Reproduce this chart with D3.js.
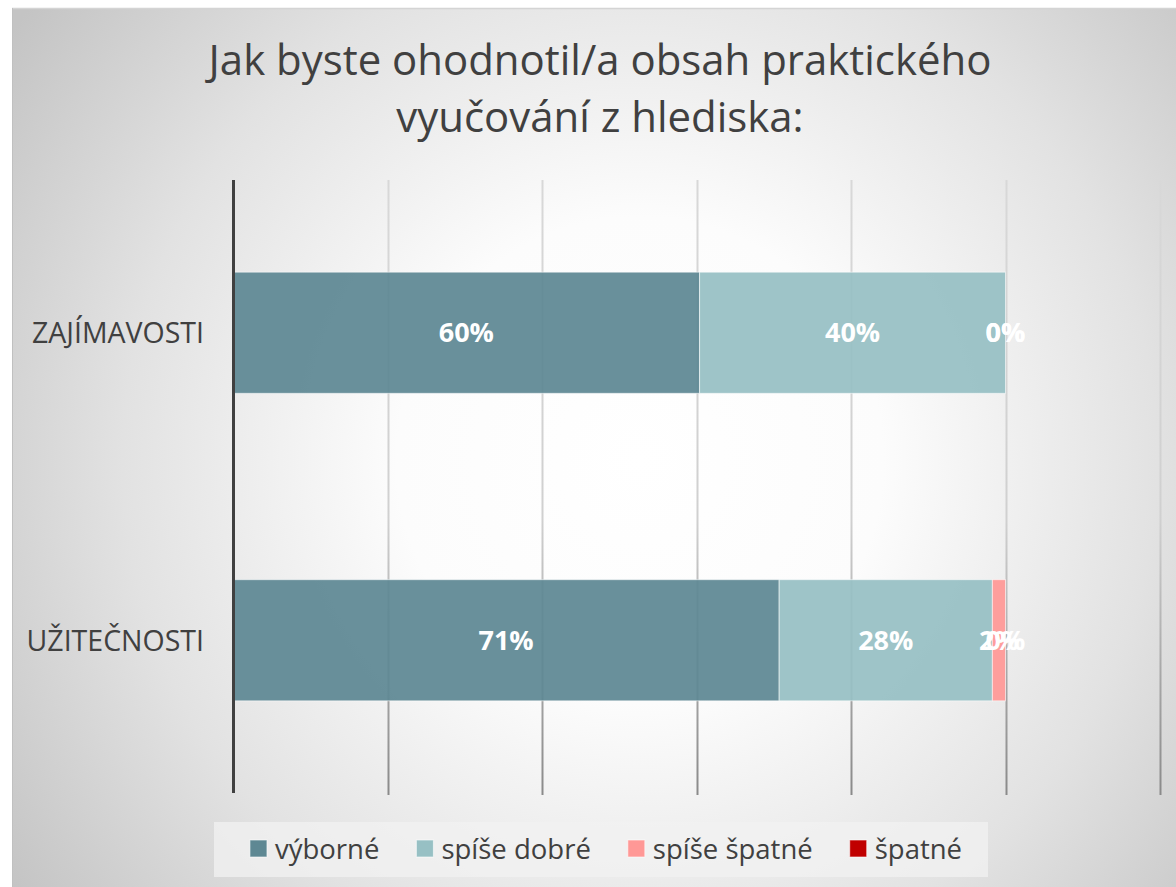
<!DOCTYPE html>
<html>
<head>
<meta charset="utf-8">
<script src="https://cdn.jsdelivr.net/npm/d3@7"></script>
<style>
  html, body { margin: 0; padding: 0; background: #ffffff; }
  svg { display: block; }
  text { font-family: "Open Sans", "Noto Sans", sans-serif; }
</style>
</head>
<body>
<svg id="chart" width="1176" height="887"></svg>
<script>
// ---- data ----
const titleLines = ["Jak byste ohodnotil/a obsah praktického", "vyučování z hlediska:"];
const categories = ["ZAJÍMAVOSTI", "UŽITEČNOSTI"];
const seriesNames = ["výborné", "spíše dobré", "spíše špatné", "špatné"];
const vyborne = [0.604, 0.707];
const spiseDobre = [0.396, 0.276];
const spiseSpatne = [0.0, 0.017];
const spatne = [0.0, 0.0];
const seriesColors = ["#5e8893", "#97c0c4", "#ff9896", "#c00000"];
const xTicks = [0, 0.2, 0.4, 0.6, 0.8, 1.0, 1.2];

const seriesValues = [vyborne, spiseDobre, spiseSpatne, spatne];

const svg = d3.select("#chart");
const defs = svg.append("defs");

// background gradient
const rg = defs.append("radialGradient").attr("id", "bg")
  .attr("gradientUnits", "userSpaceOnUse")
  .attr("cx", 640).attr("cy", 460).attr("r", 760);
[[0, "#ffffff"], [0.32, "#fcfcfc"], [0.68, "#e2e2e2"], [1, "#c4c4c4"]]
  .forEach(([o, c]) => rg.append("stop").attr("offset", o).attr("stop-color", c));

const gg = defs.append("linearGradient").attr("id", "grid")
  .attr("gradientUnits", "userSpaceOnUse")
  .attr("x1", 0).attr("y1", 180).attr("x2", 0).attr("y2", 795);
[[0, "#d8d8d8"], [0.55, "#d0d0d0"], [0.8, "#a8a8a8"], [1, "#8a8a8a"]]
  .forEach(([o, c]) => gg.append("stop").attr("offset", o).attr("stop-color", c));

svg.append("rect").attr("x", 12).attr("y", 8).attr("width", 1176).attr("height", 900)
  .attr("fill", "url(#bg)");
svg.append("line").attr("x1", 12).attr("x2", 1176).attr("y1", 8.5).attr("y2", 8.5)
  .attr("stroke", "#d4d4d4").attr("stroke-width", 1.5);
svg.append("line").attr("x1", 12.5).attr("x2", 12.5).attr("y1", 8).attr("y2", 887)
  .attr("stroke", "#c0c0c0").attr("stroke-width", 1);

// title
const title = svg.append("text").attr("text-anchor", "middle")
  .attr("fill", "#404040").attr("font-size", 40);
titleLines.forEach((t, i) => {
  title.append("tspan").attr("x", 600).attr("y", 75 + i * 57).text(t);
});
const tl = title.select("tspan").node().getComputedTextLength();
title.attr("font-size", 40 * 783 / tl);

// scales
const x = d3.scaleLinear().domain([0, 1.2]).range([233, 1160]);
const y = d3.scaleBand().domain(categories).range([180, 795])
  .paddingInner(0.606).paddingOuter(0.303);

// gridlines
svg.append("g").selectAll("line").data(xTicks.filter(d => d > 0)).join("line")
  .attr("x1", d => Math.round(x(d)) + 0.5).attr("x2", d => Math.round(x(d)) + 0.5)
  .attr("y1", 180).attr("y2", 795)
  .attr("stroke", "url(#grid)").attr("stroke-width", 2);

// stacked bars
const rows = categories.map((c, i) => {
  const r = { cat: c };
  seriesNames.forEach((s, j) => r[s] = seriesValues[j][i]);
  return r;
});
const stack = d3.stack().keys(seriesNames)(rows);

const layers = svg.append("g").selectAll("g").data(stack).join("g")
  .attr("fill", (d, i) => seriesColors[i]);
layers.selectAll("rect").data(d => d).join("rect")
  .attr("x", d => x(d[0]))
  .attr("width", d => x(d[1]) - x(d[0]))
  .attr("y", d => y(d.data.cat) - 1)
  .attr("height", y.bandwidth())
  .attr("fill-opacity", 0.93)
  .attr("stroke", d => (d[1] - d[0]) > 0 ? "rgba(255,255,255,0.55)" : "none")
  .attr("stroke-width", 1);

// data labels
const labG = svg.append("g");
stack.forEach((layer, i) => {
  labG.selectAll(null).data(layer).join("text")
    .attr("x", d => (x(d[0]) + x(d[1])) / 2)
    .attr("y", d => y(d.data.cat) - 1 + y.bandwidth() / 2)
    .attr("dy", "0.36em")
    .attr("text-anchor", "middle")
    .attr("fill", "#ffffff")
    .attr("font-weight", "bold")
    .attr("font-size", 27)
    .text(d => Math.round((d[1] - d[0]) * 100) + "%");
});

// category axis
const yAxis = svg.append("g").attr("transform", "translate(233,0)")
  .call(d3.axisLeft(y).tickSize(0).tickPadding(29));
yAxis.select(".domain").remove();
yAxis.append("line").attr("x1", 0.5).attr("x2", 0.5).attr("y1", 180).attr("y2", 793)
  .attr("stroke", "#404040").attr("stroke-width", 3);
yAxis.selectAll(".tick text")
  .attr("font-family", "'Open Sans', sans-serif")
  .attr("font-size", 28.5).attr("fill", "#404040").attr("dy", "0.34em");

// legend
const legG = svg.append("g");
legG.append("rect").attr("x", 214).attr("y", 822).attr("width", 774).attr("height", 55)
  .attr("fill", "#f2f2f2").attr("fill-opacity", 0.75);
const items = legG.selectAll("g").data(seriesNames).join("g");
items.append("rect").attr("width", 17).attr("height", 17).attr("y", 840)
  .attr("fill", (d, i) => seriesColors[i])
  .attr("stroke", "rgba(255,255,255,0.6)").attr("stroke-width", 1);
items.append("text").attr("x", 25).attr("y", 849).attr("dy", "0.36em")
  .attr("font-size", 27.5).attr("fill", "#404040").text(d => d);
const widths = [];
items.select("text").each(function () { widths.push(25 + this.getComputedTextLength()); });
const gap = 37;
const total = d3.sum(widths) + gap * (widths.length - 1);
let cx = 606 - total / 2;
items.each(function (d, i) {
  d3.select(this).attr("transform", `translate(${cx},0)`);
  cx += widths[i] + gap;
});
</script>
</body>
</html>
